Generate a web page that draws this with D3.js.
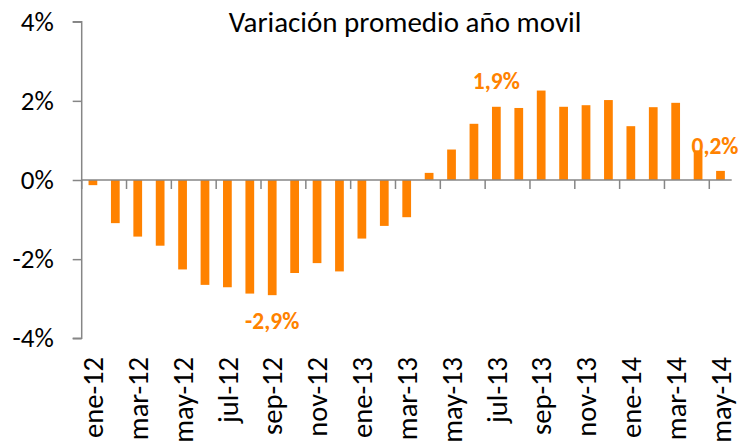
<!DOCTYPE html>
<html>
<head>
<meta charset="utf-8">
<script src="https://d3js.org/d3.v7.min.js"></script>
<style>
    body { margin: 0; background: #fff; }
    text { font-family: Carlito, Calibri, Lato, sans-serif; }
</style>
</head>
<body>
<div id="chart"></div>
<script>
    // Data
    const months = ["ene-12","feb-12","mar-12","abr-12","may-12","jun-12","jul-12","ago-12","sep-12","oct-12","nov-12","dic-12",
                    "ene-13","feb-13","mar-13","abr-13","may-13","jun-13","jul-13","ago-13","sep-13","oct-13","nov-13","dic-13",
                    "ene-14","feb-14","mar-14","abr-14","may-14"];
    const values = [-0.13, -1.09, -1.43, -1.66, -2.26, -2.65, -2.71, -2.87, -2.91, -2.35, -2.10, -2.31,
                    -1.48, -1.16, -0.94, 0.18, 0.77, 1.42, 1.85, 1.82, 2.26, 1.85, 1.89, 2.02,
                    1.36, 1.84, 1.95, 0.75, 0.23];
    const yTicks = [-4, -2, 0, 2, 4];
    const labelMonths = ["sep-12", "jul-13", "may-14"];
    const labelTexts = ["-2,9%", "1,9%", "0,2%"];
    const title = "Variación promedio año movil";

    const width = 742, height = 447;
    const orange = "#ff8200", grey = "#868686";

    const svg = d3.select("#chart").append("svg")
        .attr("width", width).attr("height", height);

    const x = d3.scaleBand().domain(months).range([81.7, 731.7])
        .paddingInner(0.61).paddingOuter(0.305);
    const y = d3.scaleLinear().domain([-4, 4]).range([338.3, 21.7]);
    const step = x.step();

    // title
    svg.append("text")
        .attr("x", 405).attr("y", 32)
        .attr("text-anchor", "middle")
        .style("font-size", "29px")
        .text(title);

    // bars
    svg.append("g").selectAll("rect")
        .data(values)
        .join("rect")
        .attr("x", (d, i) => x(months[i]))
        .attr("width", x.bandwidth())
        .attr("y", d => y(Math.max(0, d)))
        .attr("height", d => Math.abs(y(d) - y(0)))
        .attr("fill", orange);

    // y axis
    const yAxis = svg.append("g")
        .attr("transform", "translate(81.7,0)")
        .call(d3.axisLeft(y).tickValues(yTicks).tickSize(9).tickFormat(d => d + "%"));
    yAxis.select(".domain").attr("stroke", grey).attr("stroke-width", 1.5)
        .attr("d", `M-9,${y(4)}H0V${y(-4)}H-9`);
    yAxis.selectAll(".tick line").attr("stroke", grey).attr("stroke-width", 1.5);
    yAxis.selectAll(".tick text")
        .attr("x", -28)
        .attr("fill", "#000")
        .style("font-size", "27px")
        .style("font-family", "Carlito, Calibri, Lato, sans-serif");

    // x axis line + ticks at every other category boundary
    const xg = svg.append("g");
    xg.append("line")
        .attr("x1", 81.7).attr("x2", 731.7)
        .attr("y1", y(0)).attr("y2", y(0))
        .attr("stroke", grey).attr("stroke-width", 1.5);
    const boundaries = months.filter((m, i) => i % 2 === 0).map(m => x(m) - x.paddingInner() * step / 2);
    xg.selectAll("line.tk")
        .data(boundaries)
        .join("line")
        .attr("class", "tk")
        .attr("x1", d => d).attr("x2", d => d)
        .attr("y1", y(0)).attr("y2", y(0) + 9)
        .attr("stroke", grey).attr("stroke-width", 1.5);

    // x labels (every other month)
    svg.append("g").selectAll("text")
        .data(months.filter((m, i) => i % 2 === 0))
        .join("text")
        .attr("transform", d => `translate(${x(d) + x.bandwidth() / 2},357) rotate(-90)`)
        .attr("text-anchor", "end")
        .attr("dy", "0.36em")
        .style("font-size", "28.5px")
        .text(d => d);

    // data labels
    const lbl = svg.append("g");
    labelMonths.forEach((m, k) => {
        const v = values[months.indexOf(m)];
        let lx = x(m) + x.bandwidth() / 2;
        let ly = v < 0 ? y(v) + 34 : y(v) - 18;
        if (k === 2) { lx = 715; ly = 154; }
        lbl.append("text")
            .attr("x", lx).attr("y", ly)
            .attr("text-anchor", "middle")
            .attr("fill", orange)
            .style("font-weight", "bold")
            .style("font-size", "23.5px")
            .text(labelTexts[k]);
    });
</script>
</body>
</html>
